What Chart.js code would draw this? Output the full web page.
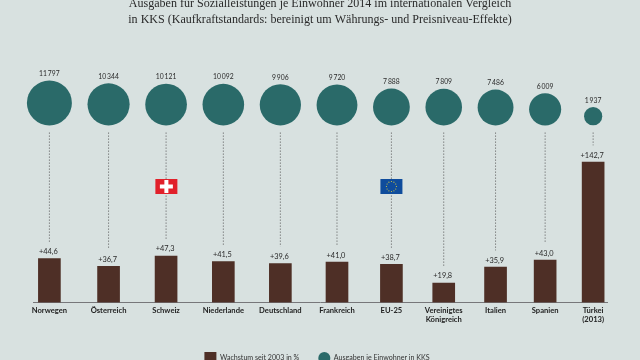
<!DOCTYPE html>
<html lang="de">
<head>
<meta charset="utf-8">
<title>Ausgaben für Sozialleistungen</title>
<script src="https://cdn.jsdelivr.net/npm/chart.js@4/dist/chart.umd.min.js"></script>
<style>
  html, body { margin: 0; padding: 0; background: #d8e1e0; }
  #box { position: relative; width: 640px; height: 360px; overflow: hidden; }
</style>
</head>
<body>
<div id="box"><canvas id="chart" width="640" height="360"></canvas></div>
<script>
// Data
const countries = ['Norwegen', 'Österreich', 'Schweiz', 'Niederlande', 'Deutschland', 'Frankreich', 'EU-25', ['Vereinigtes', 'Königreich'], 'Italien', 'Spanien', ['Türkei', '(2013)']];
const kksPerHead = [11797, 10344, 10121, 10092, 9906, 9720, 7888, 7809, 7486, 6009, 1937];
const growthSince2003 = [44.6, 36.7, 47.3, 41.5, 39.6, 41.0, 38.7, 19.8, 35.9, 43.0, 142.7];
const titleLines = ['Ausgaben für Sozialleistungen je Einwohner 2014 im internationalen Vergleich', 'in KKS (Kaufkraftstandards: bereinigt um Währungs- und Preisniveau-Effekte)'];
const legendGrowth = 'Wachstum seit 2003 in %';
const legendKks = 'Ausgaben je Einwohner in KKS';

const BAR_COLOR = '#4e2f26';
const CIRCLE_COLOR = '#2a6a69';
const TEXT_COLOR = '#2b2b2b';

// Circle area follows the value, the biggest one has radius 22.5
const radiusOf = v => 22.5 * Math.sqrt(v / Math.max(...kksPerHead));

// Columns sit side by side with a constant gap between the circles
const columnX = [];
kksPerHead.forEach((v, i) => {
    if (i === 0) { columnX.push(49.4); return; }
    const step = radiusOf(kksPerHead[i - 1]) + 15.6 + radiusOf(v);
    columnX.push(columnX[i - 1] + Math.max(step, 48));
});

const UNITS_PER_PX = 1.008;
const CIRCLE_ROW = 180.2;    // height on the y axis where the circles stand
const DOTS_TOP = 172.7;
const DOTS_CLEARANCE = 17;

const barPoints = growthSince2003.map((v, i) => ({ x: columnX[i], y: v }));
const circlePoints = kksPerHead.map((v, i) => ({ x: columnX[i], y: CIRCLE_ROW + radiusOf(v) * UNITS_PER_PX }));
const dotPoints = [];
growthSince2003.forEach((v, i) => {
    dotPoints.push({ x: columnX[i], y: DOTS_TOP }, { x: columnX[i], y: v + DOTS_CLEARANCE * UNITS_PER_PX }, { x: columnX[i], y: null });
});

// Value labels above bars and circles
const valueLabels = {
    id: 'valueLabels',
    afterDatasetsDraw(chart) {
        const ctx = chart.ctx;
        ctx.save();
        ctx.fillStyle = TEXT_COLOR;
        ctx.textAlign = 'center';
        ctx.textBaseline = 'middle';
        ctx.font = '7.4px Lato';
        chart.getDatasetMeta(0).data.forEach((el, i) => {
            ctx.fillText('+' + growthSince2003[i].toFixed(1).replace('.', ','), el.x - 1, el.y - 7);
        });
        ctx.font = '6.8px Lato';
        chart.getDatasetMeta(1).data.forEach((el, i) => {
            const text = String(kksPerHead[i]).replace(/\B(?=(\d{3})+$)/g, '\u2009');
            ctx.fillText(text, el.x, el.y - radiusOf(kksPerHead[i]) - 6.5);
        });
        ctx.restore();
    }
};

// Small flags on the dotted lines of Schweiz and EU-25
const flags = {
    id: 'flags',
    afterDatasetsDraw(chart) {
        const ctx = chart.ctx;
        const w = 22, h = 15, top = 179;
        ctx.save();

        let x = chart.scales.x.getPixelForValue(columnX[countries.indexOf('Schweiz')]) - w / 2 + 0.3;
        ctx.fillStyle = '#e1202a';
        ctx.fillRect(x, top, w, h);
        ctx.fillStyle = '#ffffff';
        ctx.fillRect(x + w / 2 - 6.5, top + h / 2 - 2, 13, 4);
        ctx.fillRect(x + w / 2 - 2, top + h / 2 - 6.5, 4, 13);

        x = chart.scales.x.getPixelForValue(columnX[countries.indexOf('EU-25')]) - w / 2;
        ctx.fillStyle = '#0f4c9c';
        ctx.fillRect(x, top, w, h);
        ctx.fillStyle = '#e5d33a';
        for (let s = 0; s < 12; s++) {
            const a = s * Math.PI / 6;
            ctx.beginPath();
            ctx.arc(x + w / 2 + Math.cos(a) * 5, top + h / 2 + Math.sin(a) * 5, 0.55, 0, Math.PI * 2);
            ctx.fill();
        }
        ctx.restore();
    }
};

// The legend sits a little left of the page centre in the original
const legendNudge = {
    id: 'legendNudge',
    afterLayout(chart) {
        chart.legend.left -= 3;
        chart.legend.right -= 3;
    }
};

new Chart(document.getElementById('chart'), {
    type: 'bar',
    data: {
        datasets: [
            { type: 'bar', label: legendGrowth, data: barPoints, backgroundColor: BAR_COLOR, barThickness: 22, order: 2 },
            {
                type: 'scatter', label: legendKks, data: circlePoints, backgroundColor: CIRCLE_COLOR, borderWidth: 0,
                pointRadius: ctx => radiusOf(kksPerHead[ctx.dataIndex]), clip: false, order: 1
            },
            {
                type: 'line', label: 'dots', data: dotPoints, borderColor: '#555555', borderWidth: 1,
                borderDash: [1, 2], pointRadius: 0, spanGaps: false, clip: false, order: 3
            }
        ]
    },
    options: {
        responsive: false,
        animation: false,
        layout: { padding: { left: 33, right: 33, top: 0, bottom: -14 } },
        scales: {
            x: {
                type: 'linear',
                offset: false,
                min: 33,
                max: 607,
                grid: { display: false, offset: false, drawTicks: false, tickLength: 0 },
                border: { display: true, color: '#77777a', width: 1 },
                afterBuildTicks: scale => { scale.ticks = columnX.map(v => ({ value: v })); },
                afterFit: scale => { scale.height = 30.5; },
                ticks: {
                    autoSkip: false,
                    maxRotation: 0,
                    minRotation: 0,
                    padding: 3,
                    color: '#222222',
                    font: { family: 'Lato', size: 7.6, weight: 'bold', lineHeight: 1.25 },
                    callback: (v, i) => countries[i]
                }
            },
            y: { display: false, min: 0, max: 279 }
        },
        plugins: {
            title: {
                display: true,
                text: titleLines,
                color: '#2a2a2a',
                font: { family: '"Liberation Serif"', size: 12.05, weight: 'normal', lineHeight: 1.33 },
                padding: { top: -4, bottom: 0 }
            },
            legend: {
                position: 'bottom',
                labels: {
                    boxWidth: 12,
                    boxHeight: 12,
                    padding: 19,
                    color: '#333333',
                    font: { family: 'Lato', size: 7.1 },
                    generateLabels: chart => {
                        const items = Chart.defaults.plugins.legend.labels.generateLabels(chart)
                            .filter(it => it.text !== 'dots')
                            .sort((a, b) => a.datasetIndex - b.datasetIndex);
                        items.forEach(it => {
                            it.lineWidth = 0;
                            it.borderRadius = it.text === legendKks ? 6 : 0;
                        });
                        return items;
                    },
                    useBorderRadius: true
                }
            },
            tooltip: { enabled: false }
        }
    },
    plugins: [valueLabels, flags, legendNudge]
});
</script>
</body>
</html>
